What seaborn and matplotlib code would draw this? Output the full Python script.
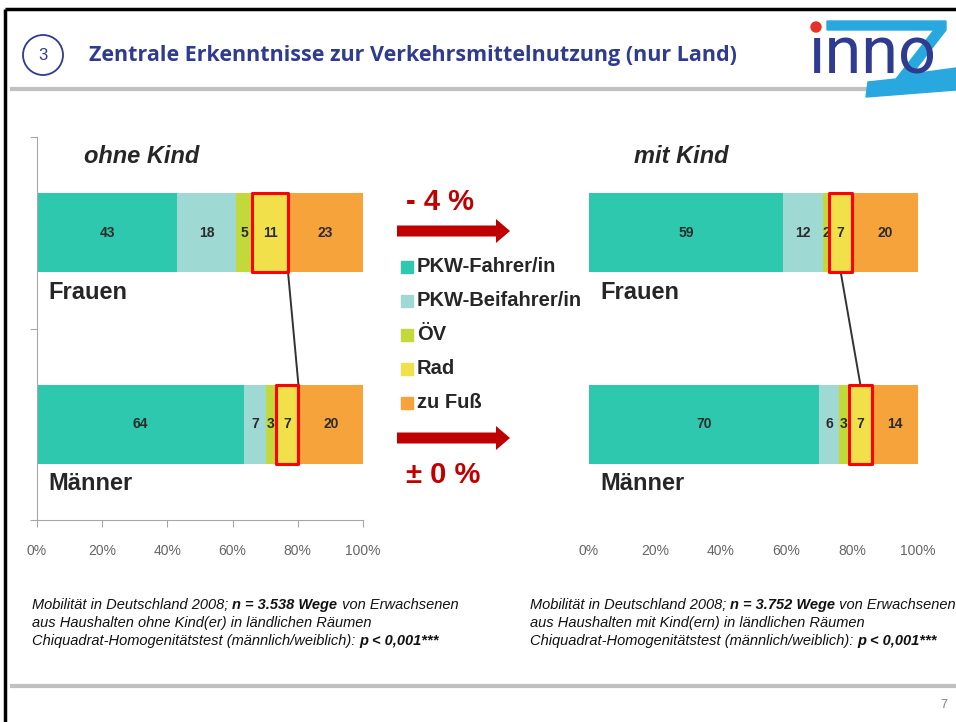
import numpy as np
import pandas as pd
import matplotlib.pyplot as plt
import seaborn as sns
from matplotlib.patches import Rectangle, Circle, Polygon, FancyArrow

# data (Anteile der Wege in %)
modes = ['PKW-Fahrer/in', 'PKW-Beifahrer/in', 'ÖV', 'Rad', 'zu Fuß']
groups = ['Frauen', 'Männer']
ohne_frauen = [43, 18, 5, 11, 23]
ohne_maenner = [64, 7, 3, 7, 20]
mit_frauen = [59, 12, 2, 7, 20]
mit_maenner = [70, 6, 3, 7, 14]
x_ticks = [0, 20, 40, 60, 80, 100]
panel_titles = ['ohne Kind', 'mit Kind']
changes = ['- 4 %', '± 0 %']
colors = ['#2ec8ae', '#9fd9d4', '#c3d83a', '#f2e04a', '#f6a33c']

title = 'Zentrale Erkenntnisse zur Verkehrsmittelnutzung (nur Land)'
foot_left = [
    [('Mobilität in Deutschland 2008; ', False), ('n = 3.538 Wege', True), (' von Erwachsenen', False)],
    [('aus Haushalten ohne Kind(er) in ländlichen Räumen', False)],
    [('Chiquadrat-Homogenitätstest (männlich/weiblich): ', False), ('p < 0,001***', True)],
]
foot_right = [
    [('Mobilität in Deutschland 2008; ', False), ('n = 3.752 Wege', True), (' von Erwachsenen', False)],
    [('aus Haushalten mit Kind(ern) in ländlichen Räumen', False)],
    [('Chiquadrat-Homogenitätstest (männlich/weiblich): ', False), ('p < 0,001***', True)],
]

sns.set_style('white')
plt.rcParams['font.family'] = ['Liberation Sans', 'DejaVu Sans']

W, H = 956, 722
fig = plt.figure(figsize=(W / 100, H / 100), dpi=100)

# background axes in pixel coordinates for the slide decoration
bg = fig.add_axes([0, 0, 1, 1], zorder=0)
bg.set_xlim(0, W)
bg.set_ylim(H, 0)
bg.axis('off')

navy = '#2e3b8e'
red = '#c00000'

# slide frame + header
bg.plot([5, 5], [9, H], color='black', lw=2.5, solid_capstyle='butt')
bg.plot([5, W], [9, 9], color='black', lw=2.5, solid_capstyle='butt')
bg.plot([10, 872], [89, 89], color='#c0c0c0', lw=3, solid_capstyle='butt')
bg.plot([10, W], [686, 686], color='#c0c0c0', lw=3, solid_capstyle='butt')
bg.add_patch(Circle((43, 55), 20, fill=False, ec=navy, lw=1.3))
bg.text(43, 56, '3', ha='center', va='center', fontsize=12, color=navy)
bg.text(89, 55, title, ha='left', va='center', fontsize=15.5, fontweight='bold',
        color=navy, family=['Open Sans', 'DejaVu Sans'])

# logo
bg.add_patch(Polygon([(827, 21), (946, 21), (946, 30), (912, 74), (956, 68), (956, 90),
                      (866, 97), (868, 82), (896, 79), (934, 30), (827, 30)],
                     color='#29a8e0', zorder=2))
bg.text(809, 74, 'ınno', ha='left', va='baseline', fontsize=48, color=navy,
        family=['Roboto', 'DejaVu Sans'], zorder=3)
bg.add_patch(Circle((816, 27), 5, color='#e8302a', zorder=4))

# legend in the middle
for i, (mode, col) in enumerate(zip(modes, colors)):
    y = 267 + 34 * i
    bg.add_patch(Rectangle((401, y - 6), 12, 12, color=col))
    bg.text(417, y, mode, ha='left', va='center', fontsize=14.5, fontweight='bold')

# arrows and change labels
for (ay, ty), txt in zip([(231, 202), (438, 475)], changes):
    bg.add_patch(FancyArrow(397, ay, 113, 0, width=11, head_width=24, head_length=14,
                            length_includes_head=True, color=red, lw=0))
    bg.text(406, ty, txt, ha='left', va='center', fontsize=21, fontweight='bold', color=red)


def draw_panel(ax, frauen, maenner, label, right):
    df = pd.DataFrame([frauen, maenner], index=groups, columns=modes)
    share = df.div(df.sum(axis=1), axis=0) * 100
    cum = share.cumsum(axis=1)
    long = cum.reset_index().melt(id_vars='index', var_name='mode', value_name='cum')
    long = long.rename(columns={'index': 'group'})
    # stacked bars: draw cumulative totals from the back to the front
    for mode, col in reversed(list(zip(modes, colors))):
        sns.barplot(data=long[long['mode'] == mode], x='cum', y='group', order=groups,
                    orient='h', color=col, saturation=1, width=0.41, linewidth=0, ax=ax)

    for r, g in enumerate(groups):
        start = 0
        for mode in modes:
            s = share.loc[g, mode]
            ax.text(start + s / 2, r, str(df.loc[g, mode]), ha='center', va='center',
                    fontsize=10, fontweight='bold', color='#2b2b2b')
            start += s

    # red boxes around "Rad" and the connecting line
    rad_start = cum['ÖV']
    rad_end = cum['Rad']
    for r, g in enumerate(groups):
        ax.add_patch(Rectangle((rad_start[g], r - 0.205), rad_end[g] - rad_start[g], 0.41,
                               fill=False, ec='#ff0000', lw=2.2, joinstyle='round', zorder=5))
    if right:
        xs = [(rad_start['Frauen'] + rad_end['Frauen']) / 2, (rad_start['Männer'] + rad_end['Männer']) / 2]
    else:
        xs = [rad_end['Frauen'], rad_end['Männer']]
    ax.plot(xs, [0.205, 1 - 0.205], color='#333333', lw=1.4, zorder=4)

    for r, g in enumerate(groups):
        ax.text(0.034, r + 0.31, g, transform=ax.get_yaxis_transform(), ha='left', va='center',
                fontsize=17, fontweight='bold')
    ax.text(0.32 if not right else 0.28, -0.4, label, transform=ax.get_yaxis_transform(),
            ha='center', va='center', fontsize=17, fontweight='bold', style='italic')

    ax.set_xlim(0, 100)
    ax.set_ylim(1.5, -0.5)
    ax.set_xticks(x_ticks)
    ax.set_xticklabels([f'{t}%' for t in x_ticks], fontsize=10, color='#666666')
    ax.set_yticks([-0.5, 0.5, 1.5])
    ax.set_yticklabels([])
    ax.set_xlabel('')
    ax.set_ylabel('')
    ax.set_facecolor('none')
    if right:
        sns.despine(ax=ax, left=True, bottom=True)
        ax.tick_params(axis='x', length=5, color='#e6e6e6', pad=12)
        ax.tick_params(axis='y', length=5, color='#d8d8d8')
        # only the 60% and 80% marks show up clearly on the slide
        for t, v in zip(ax.xaxis.get_major_ticks(), x_ticks):
            if v in (60, 80):
                t.tick1line.set_color('#a0a0a0')
    else:
        sns.despine(ax=ax)
        for side in ['left', 'bottom']:
            ax.spines[side].set_color('#a6a6a6')
        ax.tick_params(axis='both', length=5, color='#a6a6a6', direction='out', bottom=True, left=True)
        ax.tick_params(axis='x', pad=12)


ax1 = fig.add_axes([37 / W, 1 - 520 / H, 326 / W, 383 / H], zorder=1)
draw_panel(ax1, ohne_frauen, ohne_maenner, panel_titles[0], False)
ax2 = fig.add_axes([589 / W, 1 - 520 / H, 329 / W, 383 / H], zorder=1)
draw_panel(ax2, mit_frauen, mit_maenner, panel_titles[1], True)


# footnotes with bold parts
def rich_lines(x, y0, lines):
    for k, parts in enumerate(lines):
        prev = None
        for txt, bold in parts:
            kw = dict(fontsize=10.5, style='italic',
                      fontweight='bold' if bold else 'normal', color='#111111')
            if prev is None:
                prev = bg.text(x, y0 + 18 * k, txt, ha='left', va='center', **kw)
            else:
                prev = bg.annotate(txt, xy=(1, 0), xycoords=prev, ha='left', va='bottom', **kw)


rich_lines(32, 605, foot_left)
rich_lines(530, 605, foot_right)
bg.text(944, 705, '7', ha='center', va='center', fontsize=9, color='#808080')

fig.savefig('out.png', dpi=100)
